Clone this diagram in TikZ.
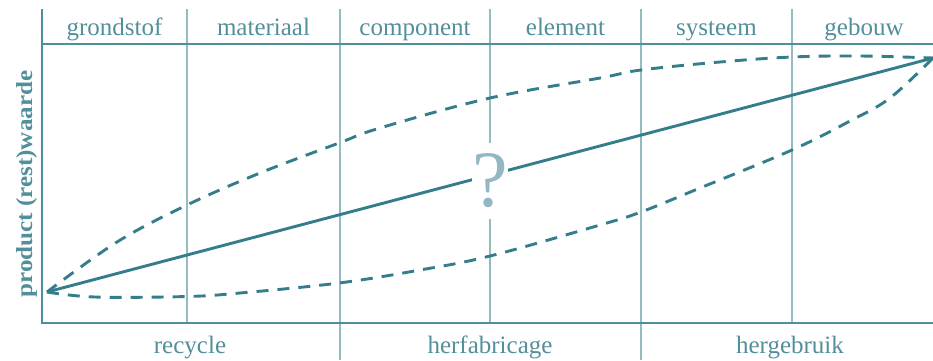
\documentclass[tikz,border=0pt]{standalone}
\usepackage{fontspec}
\setmainfont{Liberation Serif}
\definecolor{curvec}{HTML}{347E8B}
\definecolor{axisc}{HTML}{4D8F9B}
\definecolor{gridc}{HTML}{93BBC2}
\definecolor{textc}{HTML}{538F9A}
\definecolor{qc}{HTML}{93B8C3}
\tikzset{
  axisline/.style={draw=axisc, line width=2pt},
  gridline/.style={draw=gridc, line width=1.1pt},
  curve/.style={draw=curvec, line width=2.9pt},
  dashcurve/.style={curve, dash pattern=on 12pt off 9pt},
  lbl/.style={text=textc, font=\fontsize{25}{28}\selectfont, anchor=base, inner sep=0pt},
  qmark/.style={text=qc, font=\fontsize{80}{80}\selectfont, fill=white, minimum width=36pt, minimum height=76pt, inner sep=0pt}
}
\begin{document}
\begin{tikzpicture}[x=1pt,y=-1pt]
\useasboundingbox (0,0) rectangle (933,360);
% grid
\foreach \x in {187,490,792} \draw[gridline] (\x,9) -- (\x,323);
\foreach \x in {340,641} \draw[gridline] (\x,9) -- (\x,360);
\draw[axisline] (42,44) -- (933,44);
\draw[axisline] (42,9) -- (42,323) -- (933,323);
% header labels
\node[lbl] (h1) at (114.5,35) {grondstof};
\node[lbl] (h2) at (263.5,35) {materiaal};
\node[lbl] (h3) at (415,35) {component};
\node[lbl] (h4) at (565.5,35) {element};
\node[lbl] (h5) at (716.5,35) {systeem};
\node[lbl] (h6) at (864,35) {gebouw};
% bottom labels
\node[lbl] (b1) at (190,353) {recycle};
\node[lbl] (b2) at (490,353) {herfabricage};
\node[lbl] (b3) at (790,353) {hergebruik};
% y label
\node[text=textc, font=\fontsize{23}{26}\selectfont\bfseries, rotate=90, anchor=base, inner sep=0pt] (ylab) at (32,184) {\scalebox{1.09}[1]{product (rest)waarde}};
% curves
\coordinate (S) at (47,292);
\coordinate (E) at (933,58);
\draw[dashcurve] plot[smooth, tension=0.6] coordinates {(S) (117,242) (187,205) (260,173) (339,143) (380,128) (490,98) (600,78) (641,70) (720,62) (792,57) (860,56) (E)};
\draw[dashcurve] plot[smooth, tension=0.6] coordinates {(S) (95,297) (187,296.5) (240,293) (339,283) (420,270) (490,256) (600,225) (641,212) (700,188) (792,150) (850,121) (890,98) (E)};
\draw[curve] (S) -- (E);
\node[qmark] (q) at (490,181) {?};
\end{tikzpicture}
\end{document}
